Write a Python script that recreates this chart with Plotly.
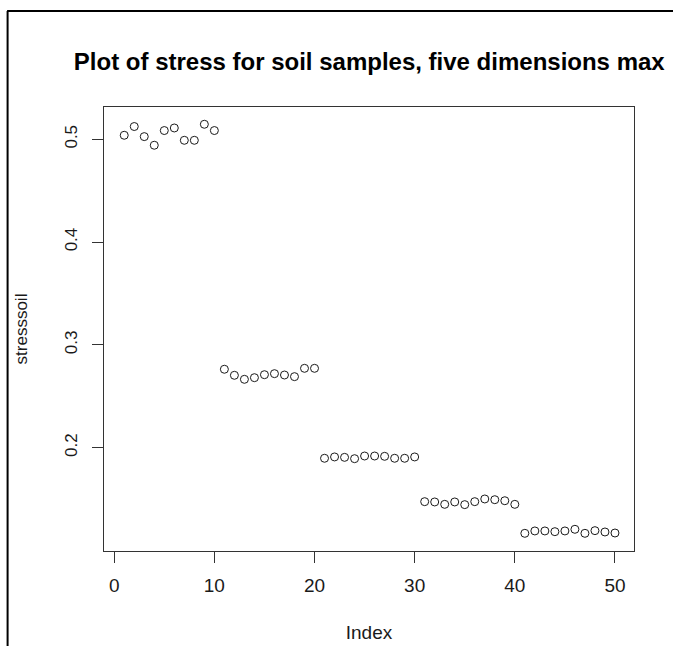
import plotly.graph_objects as go

# ---- data ----
index = list(range(1, 51))
stresssoil = [
    0.5039, 0.5124, 0.5026, 0.4942, 0.5085, 0.5110, 0.4990, 0.4990, 0.5146, 0.5085,
    0.2763, 0.2704, 0.2665, 0.2681, 0.2710, 0.2720, 0.2707, 0.2691, 0.2772, 0.2772,
    0.1897, 0.1910, 0.1906, 0.1893, 0.1919, 0.1919, 0.1916, 0.1897, 0.1897, 0.1910,
    0.1475, 0.1472, 0.1449, 0.1472, 0.1446, 0.1475, 0.1501, 0.1494, 0.1484, 0.1449,
    0.1167, 0.1190, 0.1190, 0.1183, 0.1190, 0.1206, 0.1167, 0.1193, 0.1180, 0.1170,
]
x_ticks = [0, 10, 20, 30, 40, 50]
y_ticks = [0.2, 0.3, 0.4, 0.5]
title_text = "Plot of stress for soil samples, five dimensions max"
x_title = "Index"
y_title = "stresssoil"

# ---- layout geometry ----
W, H = 673, 646
L, R, T, B = 104, 38.5, 107, 95
pw, ph = W - L - R, H - T - B

def px_x(px):
    return (px - L) / pw

def px_y(py):
    return (H - B - py) / ph

FONT = "Liberation Sans, Arial, sans-serif"
INK = "#1a1a1a"

fig = go.Figure()
fig.add_trace(go.Scatter(
    x=index, y=stresssoil, mode="markers",
    marker=dict(symbol="circle-open", size=8, color=INK, line=dict(width=1, color=INK)),
    showlegend=False, hoverinfo="x+y",
))

fig.update_layout(
    width=W, height=H,
    margin=dict(l=L, r=R, t=T, b=B, pad=0),
    paper_bgcolor="white", plot_bgcolor="white",
    font=dict(family=FONT, color=INK),
    title=dict(text="<b>" + title_text + "</b>", x=(L + pw / 2) / W, xanchor="center",
               y=1 - 61.5 / H, yanchor="middle", yref="container",
               font=dict(size=24, color="#000000", family=FONT)),
    xaxis=dict(
        range=[-1.02, 51.9], tickvals=x_ticks, ticktext=[str(v) for v in x_ticks],
        showgrid=False, zeroline=False, showline=True, linecolor="#333333", linewidth=1,
        mirror=True, ticks="outside", ticklen=11, tickwidth=1, tickcolor="#333333",
        tickfont=dict(size=19, family=FONT, color=INK), ticklabelstandoff=6,
        title=dict(text=x_title, font=dict(size=19, family=FONT, color=INK), standoff=30),
        automargin=False,
    ),
    yaxis=dict(
        range=[0.0995, 0.5314], tickvals=y_ticks, ticktext=[str(v) for v in y_ticks],
        showgrid=False, zeroline=False, showline=True, linecolor="#333333", linewidth=1,
        mirror=True, ticks="outside", ticklen=11, tickwidth=1, tickcolor="#333333",
        tickangle=-90, tickfont=dict(size=17, family=FONT, color=INK), ticklabelstandoff=8,
        title=dict(text=y_title, font=dict(size=17, family=FONT, color=INK), standoff=30),
        automargin=False,
    ),
    shapes=[
        dict(type="line", xref="paper", yref="paper", x0=px_x(7), x1=px_x(W + 5),
             y0=px_y(11), y1=px_y(11), line=dict(color="#000000", width=2)),
        dict(type="line", xref="paper", yref="paper", x0=px_x(7.5), x1=px_x(7.5),
             y0=px_y(11), y1=px_y(H + 5), line=dict(color="#000000", width=2)),
    ],
)

fig.write_html("out.html")
